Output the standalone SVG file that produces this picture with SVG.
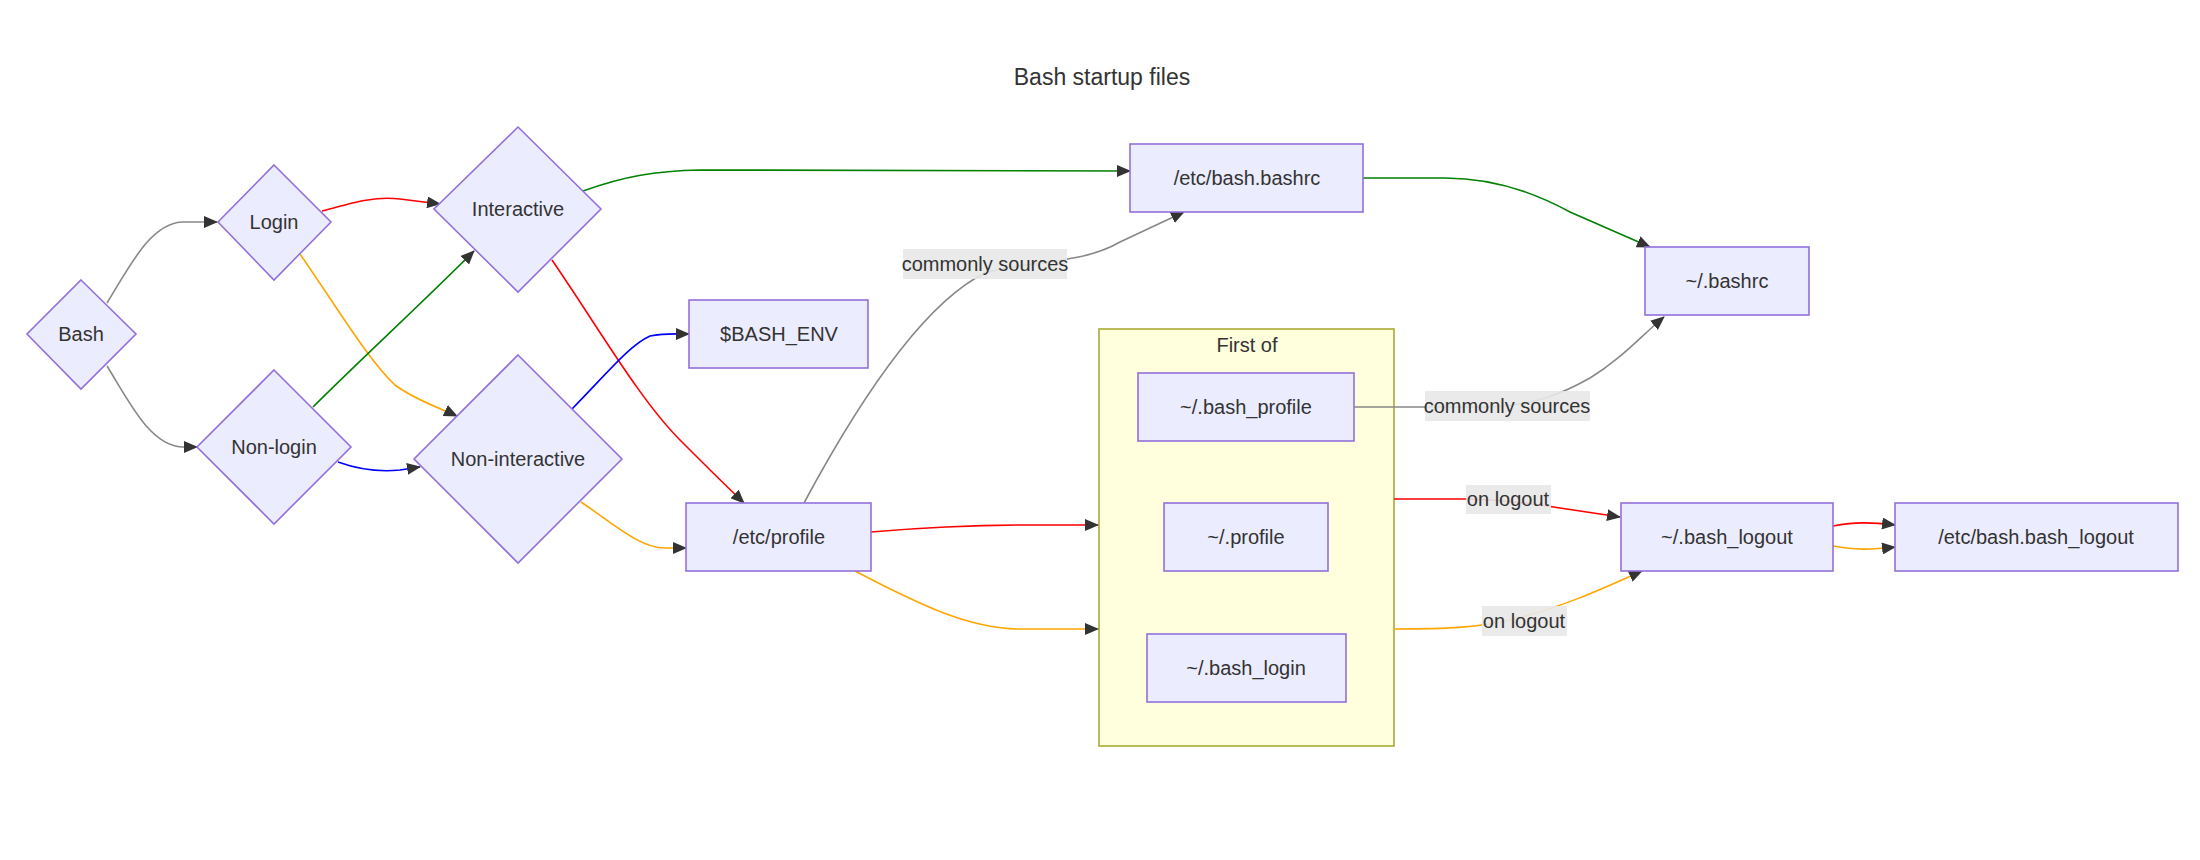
<svg xmlns="http://www.w3.org/2000/svg" width="2200" height="860" viewBox="0 0 2200 860">
<defs>
<marker id="arrow" markerUnits="userSpaceOnUse" markerWidth="14" markerHeight="12" refX="13" refY="6" orient="auto">
<path d="M0,0 L14,6 L0,12 z" fill="#333333"/>
</marker>
<style>
.node{fill:#ECECFF;stroke:#9370DB;stroke-width:1.6}
.cluster{fill:#FFFFDE;stroke:#AAAA33;stroke-width:1.6}
text{font-family:"Liberation Sans",Arial,sans-serif;fill:#333333;font-size:20px;text-anchor:middle}
.title{font-size:23px}
.edge{fill:none;stroke-width:1.6;marker-end:url(#arrow)}
.gray{stroke:#888888}
.red{stroke:#FF0000}
.orange{stroke:#FFA500}
.green{stroke:#008000}
.blue{stroke:#0000FF}
.lbl{fill:#E8E8E8;opacity:0.9}
</style>
</defs>
<rect width="2200" height="860" fill="#FFFFFF"/>
<text class="title" x="1102" y="85">Bash startup files</text>

<g id="cluster-firstof">
<rect class="cluster" x="1099" y="329" width="295" height="417"/>
<text x="1247" y="352">First of</text>
</g>

<g id="edges">
<path class="edge gray" d="M107,303 C130,266 150,224 182,222 L217,222"/>
<path class="edge gray" d="M107,366 C130,403 150,445 182,447 L197,447"/>
<path class="edge red" d="M322,211 C355,202 375,196 400,199 L440,204"/>
<path class="edge orange" d="M300,254 C340,312 370,362 395,385 C415,400 440,408 457,416"/>
<path class="edge green" d="M313,407 C360,360 420,305 474,251"/>
<path class="edge blue" d="M338,462 C360,470 380,472 400,470 L420,467"/>
<path class="edge green" d="M583,191 C625,176 655,171 700,170 L1130,171"/>
<path class="edge red" d="M552,260 C600,330 640,400 680,440 C705,465 725,485 744,503"/>
<path class="edge blue" d="M572,409 C610,370 630,345 650,336 C665,333 675,334 689,334"/>
<path class="edge orange" d="M581,502 C615,525 640,548 665,548 L686,548"/>
<path class="edge gray" d="M804,503 C870,380 930,300 985,273 C1030,260 1080,265 1120,242 L1184,212"/>
<path class="edge red" d="M871,532 C930,527 980,525 1030,525 L1098,525"/>
<path class="edge orange" d="M855,571 C920,605 970,629 1020,629 L1098,629"/>
<path class="edge green" d="M1363,178 L1445,178 C1490,178 1530,190 1570,212 L1650,247"/>
<path class="edge gray" d="M1354,407 L1490,407 C1530,406 1560,395 1590,378 C1620,360 1640,337 1664,317"/>
<path class="edge red" d="M1394,499 L1470,499 C1500,500 1530,503 1560,508 L1620,517"/>
<path class="edge orange" d="M1394,629 C1450,629 1480,627 1510,620 C1560,608 1600,590 1642,571"/>
<path class="edge red" d="M1833,526 C1855,522 1870,522 1895,525"/>
<path class="edge orange" d="M1833,546 C1855,550 1870,550 1895,547"/>
<g id="edge-labels">
<rect class="lbl" x="903" y="249" width="164" height="30"/>
<text x="985" y="271">commonly sources</text>
<rect class="lbl" x="1425" y="391" width="165" height="30"/>
<text x="1507" y="413">commonly sources</text>
<rect class="lbl" x="1466" y="485" width="85" height="29"/>
<text x="1508" y="506">on logout</text>
<rect class="lbl" x="1482" y="606" width="85" height="30"/>
<text x="1524" y="628">on logout</text>
</g>
</g>

<g id="node-bash">
<polygon class="node" points="81,280 136,334 81,389 27,334"/>
<text x="81" y="341">Bash</text>
</g>
<g id="node-login">
<polygon class="node" points="274,165 331,222 274,280 218,222"/>
<text x="274" y="229">Login</text>
</g>
<g id="node-nonlogin">
<polygon class="node" points="274,370 351,447 274,524 197,447"/>
<text x="274" y="454">Non-login</text>
</g>
<g id="node-interactive">
<polygon class="node" points="518,127 601,209 518,292 434,209"/>
<text x="518" y="216">Interactive</text>
</g>
<g id="node-noninteractive">
<polygon class="node" points="518,355 622,459 518,563 414,459"/>
<text x="518" y="466">Non-interactive</text>
</g>
<g id="node-bashenv">
<rect class="node" x="689" y="300" width="179" height="68"/>
<text x="779" y="341">$BASH_ENV</text>
</g>
<g id="node-etcprofile">
<rect class="node" x="686" y="503" width="185" height="68"/>
<text x="779" y="544">/etc/profile</text>
</g>
<g id="node-etcbashrc">
<rect class="node" x="1130" y="144" width="233" height="68"/>
<text x="1247" y="185">/etc/bash.bashrc</text>
</g>
<g id="node-bashrc">
<rect class="node" x="1645" y="247" width="164" height="68"/>
<text x="1727" y="288">~/.bashrc</text>
</g>
<g id="node-bashprofile">
<rect class="node" x="1138" y="373" width="216" height="68"/>
<text x="1246" y="414">~/.bash_profile</text>
</g>
<g id="node-profile">
<rect class="node" x="1164" y="503" width="164" height="68"/>
<text x="1246" y="544">~/.profile</text>
</g>
<g id="node-bashlogin">
<rect class="node" x="1147" y="634" width="199" height="68"/>
<text x="1246" y="675">~/.bash_login</text>
</g>
<g id="node-bashlogout">
<rect class="node" x="1621" y="503" width="212" height="68"/>
<text x="1727" y="544">~/.bash_logout</text>
</g>
<g id="node-etcbashlogout">
<rect class="node" x="1895" y="503" width="283" height="68"/>
<text x="2036" y="544">/etc/bash.bash_logout</text>
</g>
</svg>
